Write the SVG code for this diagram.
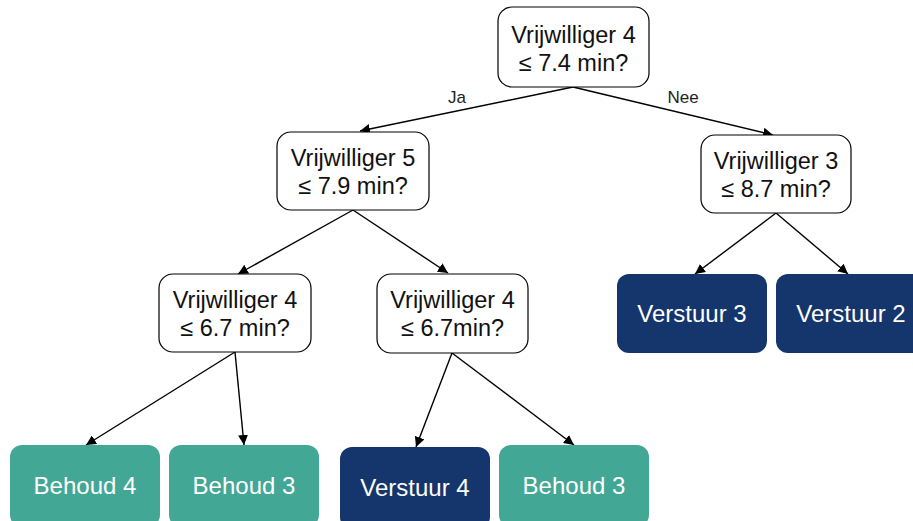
<svg xmlns="http://www.w3.org/2000/svg" width="913" height="521" viewBox="0 0 913 521">
<defs>
<marker id="ah" viewBox="0 0 10 10" refX="10" refY="5" markerWidth="10" markerHeight="10" markerUnits="userSpaceOnUse" orient="auto">
<path d="M0,0 L10,5 L0,10 z" fill="#000"/>
</marker>
<style>
.q{fill:#fff;stroke:#000;stroke-width:1.2}
.t{font-family:"Liberation Sans",Arial,sans-serif;font-size:23.5px;text-anchor:middle;fill:#111}
.lt{font-family:"Liberation Sans",Arial,sans-serif;font-size:24px;text-anchor:middle;fill:#fff}
.teal{fill:#42A795}
.navy{fill:#15366C}
.c{stroke:#000;stroke-width:1.4;fill:none;marker-end:url(#ah)}
.lbl{font-family:"Liberation Sans",Arial,sans-serif;font-size:17px;text-anchor:middle;fill:#222}
</style>
</defs>
<rect width="913" height="521" fill="#fff"/>
<g id="connectors">
<line class="c" x1="573" y1="87" x2="360" y2="131"/>
<line class="c" x1="573" y1="87" x2="773" y2="135"/>
<line class="c" x1="353" y1="210" x2="238" y2="274"/>
<line class="c" x1="353" y1="210" x2="448" y2="273"/>
<line class="c" x1="776" y1="213" x2="695" y2="274"/>
<line class="c" x1="776" y1="213" x2="848" y2="274"/>
<line class="c" x1="235" y1="352" x2="86" y2="445"/>
<line class="c" x1="235" y1="352" x2="244" y2="445"/>
<line class="c" x1="452" y1="353" x2="416" y2="447"/>
<line class="c" x1="452" y1="353" x2="574" y2="445"/>
<text class="lbl" x="457" y="103">Ja</text>
<text class="lbl" x="683" y="103">Nee</text>
</g>
<g id="n-root">
<rect class="q" x="498" y="7" width="151" height="80" rx="14"/>
<text class="t" x="573.5" y="43">Vrijwilliger 4</text>
<text class="t" x="573.5" y="71">≤ 7.4 min?</text>
</g>
<g id="n-v5">
<rect class="q" x="277" y="132" width="152" height="78" rx="14"/>
<text class="t" x="353" y="166">Vrijwilliger 5</text>
<text class="t" x="353" y="194">≤ 7.9 min?</text>
</g>
<g id="n-v3">
<rect class="q" x="701" y="135" width="150" height="78" rx="14"/>
<text class="t" x="776" y="169">Vrijwilliger 3</text>
<text class="t" x="776" y="197">≤ 8.7 min?</text>
</g>
<g id="n-v4a">
<rect class="q" x="159" y="274" width="152" height="78" rx="14"/>
<text class="t" x="235" y="308">Vrijwilliger 4</text>
<text class="t" x="235" y="336">≤ 6.7 min?</text>
</g>
<g id="n-v4b">
<rect class="q" x="377" y="274" width="151" height="79" rx="14"/>
<text class="t" x="452.5" y="308">Vrijwilliger 4</text>
<text class="t" x="452.5" y="336">≤ 6.7min?</text>
</g>
<g id="n-verstuur3">
<rect class="navy" x="617" y="274" width="150" height="79" rx="12"/>
<text class="lt" x="692" y="322">Verstuur 3</text>
</g>
<g id="n-verstuur2">
<rect class="navy" x="776" y="274" width="150" height="79" rx="12"/>
<text class="lt" x="851" y="322">Verstuur 2</text>
</g>
<g id="n-behoud4">
<rect class="teal" x="10" y="445" width="150" height="82" rx="12"/>
<text class="lt" x="85" y="494">Behoud 4</text>
</g>
<g id="n-behoud3a">
<rect class="teal" x="169" y="445" width="150" height="82" rx="12"/>
<text class="lt" x="244" y="494">Behoud 3</text>
</g>
<g id="n-verstuur4">
<rect class="navy" x="340" y="447" width="150" height="82" rx="12"/>
<text class="lt" x="415" y="496">Verstuur 4</text>
</g>
<g id="n-behoud3b">
<rect class="teal" x="499" y="445" width="150" height="82" rx="12"/>
<text class="lt" x="574" y="494">Behoud 3</text>
</g>
</svg>
